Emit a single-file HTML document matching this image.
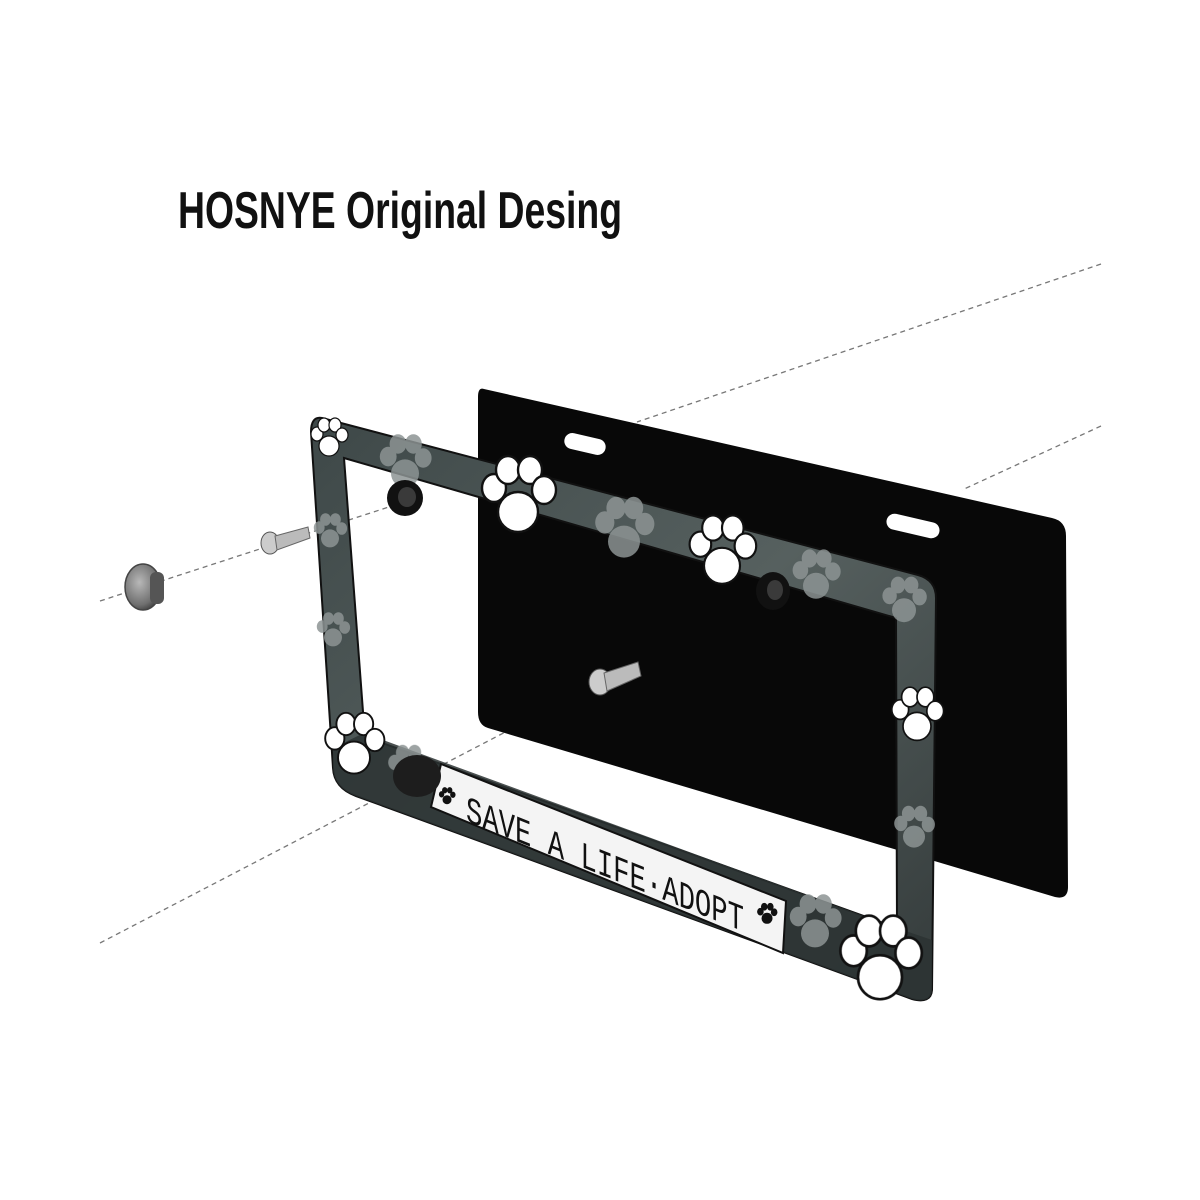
<!DOCTYPE html>
<html><head><meta charset="utf-8"><style>
html,body{margin:0;padding:0;background:#fff;}
svg{display:block}
</style></head><body>
<svg width="1200" height="1200" viewBox="0 0 1200 1200" xmlns="http://www.w3.org/2000/svg">
<defs>
<g id="paw">
<ellipse cx="0" cy="6" rx="10" ry="10"/>
<ellipse cx="-12" cy="-6" rx="6" ry="7"/>
<ellipse cx="-5" cy="-15" rx="6" ry="7"/>
<ellipse cx="6" cy="-15" rx="6" ry="7"/>
<ellipse cx="13" cy="-5" rx="6" ry="7"/>
</g>
<linearGradient id="fr" x1="0" y1="0" x2="1" y2="1">
<stop offset="0" stop-color="#3e4848"/><stop offset="0.5" stop-color="#56605f"/><stop offset="1" stop-color="#343b3b"/>
</linearGradient>
<radialGradient id="cap" cx="0.4" cy="0.4" r="0.7">
<stop offset="0" stop-color="#b8b8b8"/><stop offset="0.7" stop-color="#707070"/><stop offset="1" stop-color="#333"/>
</radialGradient>
</defs>

<text x="178" y="228" font-family="'Liberation Sans Narrow','Liberation Sans',sans-serif" font-weight="bold" font-size="52" textLength="444" lengthAdjust="spacingAndGlyphs" fill="#111">HOSNYE Original Desing</text>

<g stroke="#777" stroke-width="1.3" stroke-dasharray="5,4" fill="none">
<line x1="1101" y1="264" x2="637" y2="422"/>
<line x1="1101" y1="426" x2="962" y2="490"/>
<line x1="100" y1="601" x2="398" y2="504"/>
<line x1="100" y1="943" x2="540" y2="714"/>
</g>

<path d="M484,389 L1052,518 Q1066,521 1066,536 L1068,887 Q1068,900 1055,897 L488,728 Q478,725 478,712 L478,397 Q478,387 484,389 Z" fill="#080808"/>
<rect x="564" y="436" width="42" height="16" rx="8" fill="#fff" transform="rotate(13 585 444)"/>
<rect x="886" y="518" width="54" height="16" rx="8" fill="#fff" transform="rotate(13 913 526)"/>

<path fill-rule="evenodd" fill="url(#fr)" stroke="#111" stroke-width="2"
d="M322,418 L918,575 Q936,580 936,598 L932,990 Q931,1004 912,999 L356,796 Q334,788 333,768 L311,432 Q311,416 322,418 Z
M344,458 L896,618 L897,928 L374,740 Q364,736 364,725 Z"/>
<path d="M364,733 L897,928 L932,940 L932,990 Q931,1004 912,999 L356,796 Q334,788 333,768 L333,748 Z" fill="#2c3232" opacity="0.85"/>

<polygon points="441,764 786,901 783,953 431,807" fill="#f4f4f4" stroke="#111" stroke-width="2"/>
<g transform="translate(466,821) skewY(21.7) scale(1,1.35)">
<text x="0" y="0" font-family="'Liberation Mono',monospace" font-size="28" textLength="278" lengthAdjust="spacingAndGlyphs" fill="#111">SAVE A LIFE·ADOPT</text>
</g>
<use href="#paw" fill="#111" transform="translate(447,797) scale(0.45)"/>
<use href="#paw" fill="#111" transform="translate(767,915) scale(0.55)"/>

<g fill="#8d9494" opacity="0.85">
<use href="#paw" transform="translate(405,465) scale(1.4)"/>
<use href="#paw" transform="translate(624,532) scale(1.6)"/>
<use href="#paw" transform="translate(816,578) scale(1.3)"/>
<use href="#paw" transform="translate(904,603) scale(1.2)"/>
<use href="#paw" transform="translate(330,533) scale(0.9)"/>
<use href="#paw" transform="translate(333,632) scale(0.9)"/>
<use href="#paw" transform="translate(914,830) scale(1.1)"/>
<use href="#paw" transform="translate(815,925) scale(1.4)"/>
<use href="#paw" transform="translate(408,769) scale(1.1)"/>
</g>
<g fill="#fff" stroke="#111" stroke-width="1.2">
<use href="#paw" transform="translate(329,440) scale(1)"/>
<use href="#paw" transform="translate(518,500) scale(2)"/>
<use href="#paw" transform="translate(722,555) scale(1.8)"/>
<use href="#paw" transform="translate(354,748) scale(1.6)"/>
<use href="#paw" transform="translate(917,718) scale(1.4)"/>
<use href="#paw" transform="translate(880,964) scale(2.2)"/>
</g>

<ellipse cx="405" cy="498" rx="18" ry="18" fill="#111"/><ellipse cx="407" cy="497" rx="9" ry="10" fill="#3a3a3a"/>
<ellipse cx="773" cy="591" rx="17" ry="19" fill="#111"/><ellipse cx="775" cy="590" rx="8" ry="10" fill="#3a3a3a"/>
<ellipse cx="417" cy="776" rx="24" ry="21" fill="#1d1d1d"/>

<g>
<ellipse cx="143" cy="587" rx="18" ry="23" fill="url(#cap)" stroke="#444" stroke-width="1.5"/>
<rect x="150" y="572" width="14" height="32" rx="6" fill="#555"/>
<ellipse cx="270" cy="543" rx="9" ry="11" fill="#ccc" stroke="#555"/>
<polygon points="275,536 308,527 310,538 277,550" fill="#bbb" stroke="#666"/>
<ellipse cx="600" cy="682" rx="11" ry="13" fill="#ccc" stroke="#555"/>
<polygon points="604,673 638,662 641,676 607,691" fill="#bbb" stroke="#666"/>
</g>
</svg>
</body></html>
